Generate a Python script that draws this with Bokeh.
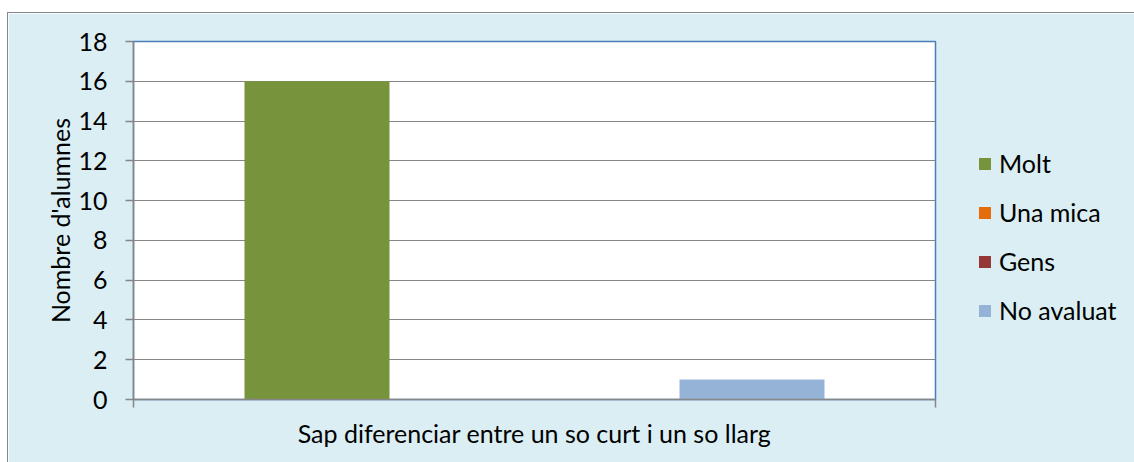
from bokeh.plotting import figure
from bokeh.models import Range1d, FixedTicker, Legend, LegendItem, ColumnDataSource
from bokeh.transform import dodge
from bokeh.embed import file_html
from bokeh.resources import INLINE

category = ["Sap diferenciar entre un so curt i un so llarg"]
series = ["Molt", "Una mica", "Gens", "No avaluat"]
values = [16, 0, 0, 1]
colors = ["#77933C", "#E46C0A", "#953735", "#95B3D7"]
y_ticks = [0, 2, 4, 6, 8, 10, 12, 14, 16, 18]
y_label = "Nombre d'alumnes"

FONT = "Lato"
FS = "25px"
GRAY = "#868686"

# the single category occupies the span [0, 1]; its centre is 0.5
cat_center = [i + 0.5 for i in range(len(category))]

p = figure(x_range=Range1d(0, len(category)), y_range=Range1d(0, 18),
           frame_width=802, frame_height=358, output_backend="svg", toolbar_location=None,
           min_border_left=125, min_border_right=20,
           min_border_top=28, min_border_bottom=63)
p.styles = {"margin-top": "12px", "margin-left": "7px",
            "border-top": "1px solid #888888", "border-left": "1px solid #888888"}
p.border_fill_color = "#DAEEF3"
p.background_fill_color = "#FFFFFF"
p.outline_line_color = "#4A7EBB"
p.outline_line_width = 1.5

w = 0.1808
items = []
for i, (name, val, col) in enumerate(zip(series, values, colors)):
    src = ColumnDataSource(dict(x=cat_center, top=[val]))
    r = p.vbar(x=dodge('x', (i - 1.5) * w), top='top', bottom=0, width=w,
               fill_color=col, line_color=None, source=src)
    items.append(LegendItem(label=name, renderers=[r]))

p.xgrid.visible = False
p.ygrid.grid_line_color = GRAY
p.ygrid.grid_line_width = 1
p.ygrid.ticker = FixedTicker(ticks=y_ticks)

ya = p.yaxis[0]
ya.ticker = FixedTicker(ticks=y_ticks)
ya.axis_label = y_label
ya.axis_line_color = GRAY
ya.axis_line_width = 1.5
ya.major_tick_line_color = GRAY
ya.major_tick_line_width = 1.5
ya.major_tick_out = 8
ya.major_tick_in = 0
ya.minor_tick_line_color = None
ya.major_label_text_font = FONT
ya.major_label_text_font_size = FS
ya.major_label_text_color = "#000000"
ya.major_label_standoff = 18
ya.axis_label_text_font = FONT
ya.axis_label_text_font_size = FS
ya.axis_label_text_font_style = "normal"
ya.axis_label_text_color = "#000000"
ya.axis_label_standoff = 0

xa = p.xaxis[0]
xa.ticker = FixedTicker(ticks=[0, len(category)])
xa.axis_label = category[0]
xa.axis_line_color = GRAY
xa.axis_line_width = 1.5
xa.major_tick_line_color = GRAY
xa.major_tick_line_width = 1.5
xa.major_tick_out = 8
xa.major_tick_in = 0
xa.minor_tick_line_color = None
xa.major_label_text_font_size = "0px"
xa.major_label_standoff = 0
xa.axis_label_text_font = FONT
xa.axis_label_text_font_size = FS
xa.axis_label_text_font_style = "normal"
xa.axis_label_text_color = "#000000"
xa.axis_label_standoff = 10

legend = Legend(items=items, location="center_left")
legend.background_fill_alpha = 0
legend.border_line_color = None
legend.padding = 0
legend.margin = 42
legend.glyph_width = 15
legend.glyph_height = 15
legend.label_height = 20
legend.spacing = 19
legend.label_standoff = 7
legend.label_text_font = FONT
legend.label_text_font_size = FS
legend.label_text_color = "#000000"
# blank title block only shifts the centred item stack downwards
legend.title = " "
legend.title_text_font_size = "20px"
legend.title_standoff = 10
p.add_layout(legend, "right")

open("out.html", "w").write(file_html(p, INLINE))
